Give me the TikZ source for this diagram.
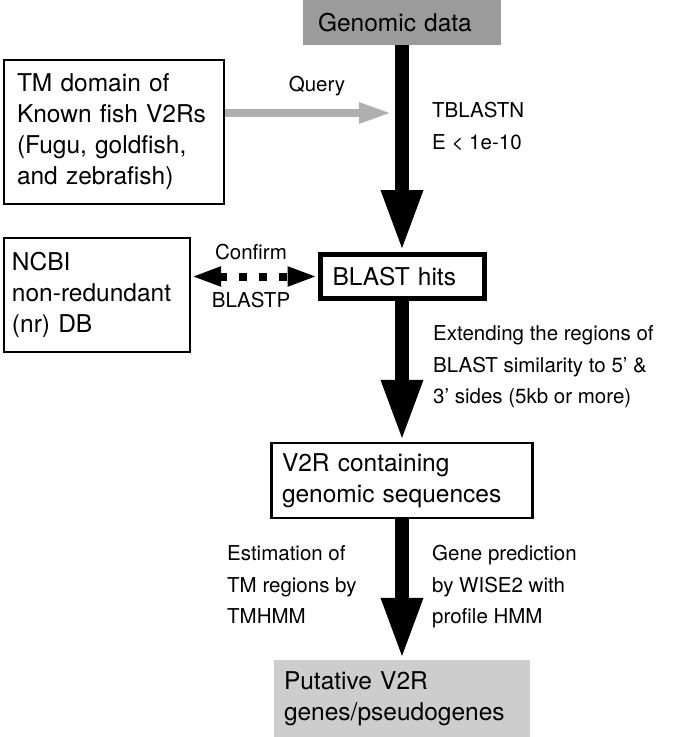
\documentclass[tikz,border=0pt]{standalone}
\usepackage{fontspec}
\setmainfont{TeX Gyre Heros}
\usepackage{tikz}
\usetikzlibrary{arrows.meta}
\usetikzlibrary{calc}
\usepackage{xcolor}
\definecolor{genomicgray}{RGB}{155,155,155}
\definecolor{putativegray}{RGB}{205,205,205}
\definecolor{querygray}{RGB}{175,175,175}
\newcommand{\boxfont}{\fontsize{24.5}{31}\selectfont}
\newcommand{\labelfont}{\fontsize{20.5}{31.5}\selectfont}
\newcommand{\widthshaft}{14.5pt}
\tikzset{
    common/.style={rectangle, align=left, font=\boxfont},
    framed/.style={common, draw, line width=2.4pt},
    filled/.style={common, fill=#1},
    steplabel/.style={font=\labelfont, align=left, anchor=north west, inner sep=0pt},
    edgelabel/.style={font=\labelfont, anchor=base, inner sep=0pt},
    bigarrow/.style={line width=\widthshaft, -{Triangle[length=62pt, width=38pt]}},
    query-arrow/.style={querygray, line width=8pt, -{Triangle[length=33pt, width=19pt]}},
    confirm-arrow/.style={line width=8pt, dash pattern=on 8pt off 12pt,
        {Triangle[length=30pt, width=18pt]}-{Triangle[length=30pt, width=18pt]}},
}
\begin{document}
\begin{tikzpicture}[x=1pt, y=-1pt]
            \useasboundingbox (0,0) rectangle (685,737);

            \path
                (402,22.5) node[filled=genomicgray, inner xsep=15pt, text width=168pt, minimum height=45pt] (genomic-data) {Genomic data}
                (114,132) node[framed, inner xsep=13pt, text width=194pt, minimum height=144pt] (tm-domain)
                    {TM domain of\\Known fish V2Rs\\(Fugu, goldfish,\\and zebrafish)}
                (97,295) node[framed, inner xsep=8pt, text width=170pt, minimum height=114pt] (ncbi-db)
                    {NCBI\\non-redundant\\(nr) DB}
                (402,276.5) node[framed, line width=5pt, inner xsep=12.5pt, text width=139pt, minimum height=44pt] (blast-hits) {BLAST hits}
                (402,480.5) node[framed, inner xsep=10.5pt, text width=240pt, minimum height=75pt] (v2r-seq)
                    {V2R containing\\genomic sequences}
                (402,698.5) node[filled=putativegray, inner xsep=10pt, text width=236pt, minimum height=77pt] (putative-v2r)
                    {Putative V2R\\genes/pseudogenes};

            \coordinate (query-tip) at (392,113);

            \draw[bigarrow] (genomic-data.south) -- (blast-hits.north);
            \draw[bigarrow] (blast-hits.south) -- (v2r-seq.north);
            \draw[bigarrow] (v2r-seq.south) -- (putative-v2r.north);
            \draw[query-arrow] (tm-domain.east |- query-tip) -- (query-tip);
            \draw[confirm-arrow] (ncbi-db.east |- blast-hits.west) -- (blast-hits.west);

            \path
                (317,91) node[edgelabel] (query-label) {Query}
                (251,259) node[edgelabel] (confirm-label) {Confirm}
                (251,307) node[edgelabel] (blastp-label) {BLASTP}
                (432,102.3) node[steplabel] (tblastn-label) {TBLASTN\\E < 1e-10}
                (433,325.3) node[steplabel] (extend-label)
                    {Extending the regions of\\BLAST similarity to 5' \&\\3' sides (5kb or more)}
                (227,545.3) node[steplabel] (tmhmm-label) {Estimation of\\TM regions by\\TMHMM}
                (432,545.3) node[steplabel] (wise-label) {Gene prediction\\by WISE2 with\\profile HMM};
          \end{tikzpicture}
\end{document}
